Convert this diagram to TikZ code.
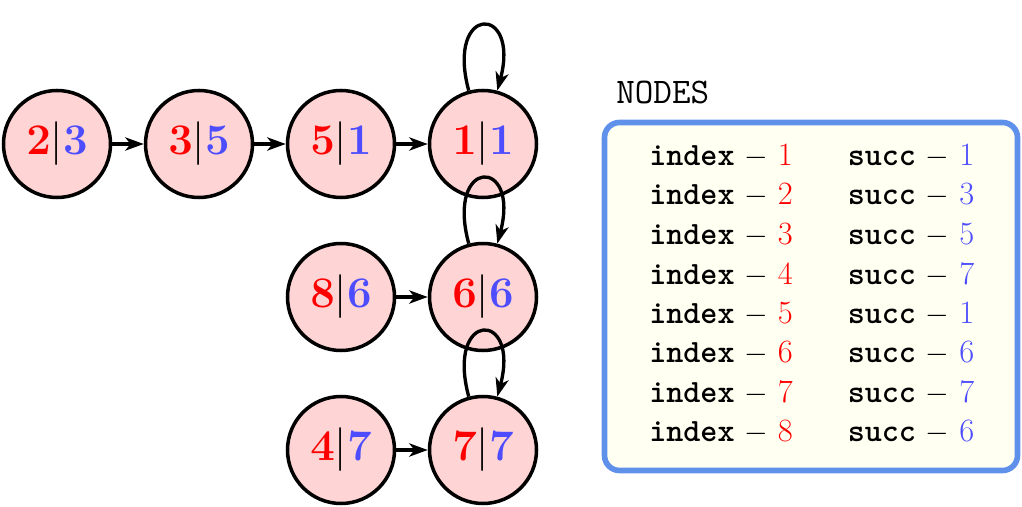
\documentclass[tikz,border=0pt]{standalone}
\usetikzlibrary{arrows.meta,positioning}

\definecolor{nodepink}{RGB}{255,212,212}
\definecolor{succblue}{RGB}{77,77,255}
\definecolor{frameblue}{RGB}{95,145,235}
\definecolor{paper}{RGB}{255,255,242}

\newcommand{\pair}[2]{$\mathbf{\color{red}#1}|\mathbf{\color{succblue}#2}$}
\newcommand{\idx}[1]{\texttt{\textbf{index}} $-$ \textcolor{red}{#1}}
\newcommand{\suc}[1]{\texttt{\textbf{succ}} $-$ \textcolor{succblue}{#1}}

\tikzset{
  elem/.style={circle,draw,line width=2pt,fill=nodepink,minimum size=2.14cm,inner sep=0pt,font=\Huge},
  row/.style={inner sep=0pt,font=\fontsize{18.5}{22}\selectfont},
  link/.style={->,line width=1.9pt},
}

\begin{document}
\begin{tikzpicture}[>={Stealth[length=10.5pt,width=7.5pt,inset=3pt]}]
\useasboundingbox (0,0) rectangle (20.44,-10.14);

\node[elem] (n23) at (1.14,-2.88) {\pair{2}{3}};
\node[elem] (n35) [right of=n23,node distance=2.84cm] {\pair{3}{5}};
\node[elem] (n51) [right of=n35,node distance=2.84cm] {\pair{5}{1}};
\node[elem] (n11) [right of=n51,node distance=2.84cm] {\pair{1}{1}};
\node[elem] (n66) [below of=n11,node distance=3.06cm] {\pair{6}{6}};
\node[elem] (n86) [left of=n66,node distance=2.84cm] {\pair{8}{6}};
\node[elem] (n77) [below of=n66,node distance=3.06cm] {\pair{7}{7}};
\node[elem] (n47) [left of=n77,node distance=2.84cm] {\pair{4}{7}};

\draw[link] (n23) -- (n35);
\draw[link] (n35) -- (n51);
\draw[link] (n51) -- (n11);
\draw[link] (n86) -- (n66);
\draw[link] (n47) -- (n77);

\draw[link] (n11) to[loop above,distance=1.8cm] (n11);
\draw[link] (n66) to[loop above,distance=1.8cm] (n66);
\draw[link] (n77) to[loop above,distance=1.8cm] (n77);

% table of nodes
\node[inner sep=0pt,anchor=west,font=\fontsize{20.5}{24}\selectfont] (title) at (12.32,-1.84) {\texttt{NODES}};
\draw[line width=3.2pt,frameblue,fill=paper,rounded corners=0.3cm] (12.09,-2.45) rectangle (20.35,-9.41);

\node[row] (i1) at (14.42,-3.12) {\idx{1}};
\node[row] (i2) [below of=i1,node distance=0.79cm] {\idx{2}};
\node[row] (i3) [below of=i2,node distance=0.79cm] {\idx{3}};
\node[row] (i4) [below of=i3,node distance=0.79cm] {\idx{4}};
\node[row] (i5) [below of=i4,node distance=0.79cm] {\idx{5}};
\node[row] (i6) [below of=i5,node distance=0.79cm] {\idx{6}};
\node[row] (i7) [below of=i6,node distance=0.79cm] {\idx{7}};
\node[row] (i8) [below of=i7,node distance=0.79cm] {\idx{8}};

\node[row] (s1) [right of=i1,node distance=3.8cm] {\suc{1}};
\node[row] (s2) [below of=s1,node distance=0.79cm] {\suc{3}};
\node[row] (s3) [below of=s2,node distance=0.79cm] {\suc{5}};
\node[row] (s4) [below of=s3,node distance=0.79cm] {\suc{7}};
\node[row] (s5) [below of=s4,node distance=0.79cm] {\suc{1}};
\node[row] (s6) [below of=s5,node distance=0.79cm] {\suc{6}};
\node[row] (s7) [below of=s6,node distance=0.79cm] {\suc{7}};
\node[row] (s8) [below of=s7,node distance=0.79cm] {\suc{6}};
\end{tikzpicture}
\end{document}
